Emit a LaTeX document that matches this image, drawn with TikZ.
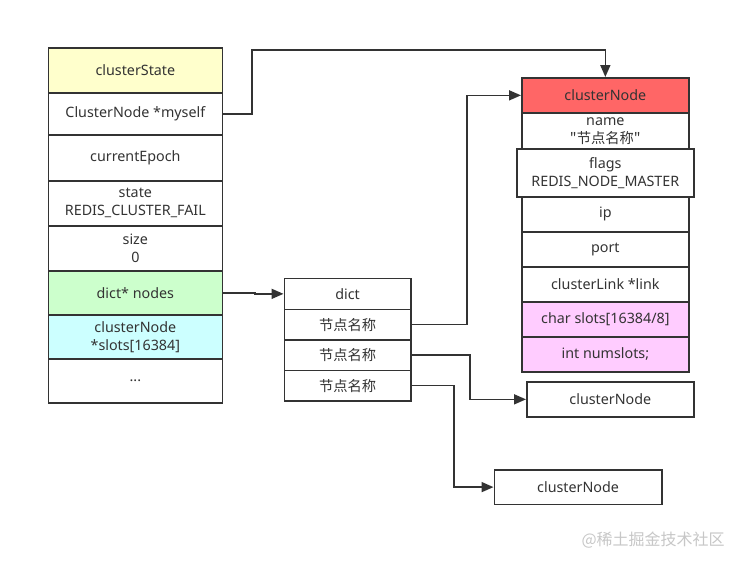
\documentclass[tikz,border=0pt]{standalone}
\usepackage{fontspec}
\setmainfont{Noto Sans}
\newfontfamily\cjk{Noto Sans CJK SC}
\usetikzlibrary{arrows.meta}
\definecolor{ink}{HTML}{333333}
\definecolor{cyel}{HTML}{FFFFCC}
\definecolor{cgrn}{HTML}{CCFFCC}
\definecolor{ccyn}{HTML}{CCFFFF}
\definecolor{cred}{HTML}{FF6666}
\definecolor{cpnk}{HTML}{FFCCFF}
\tikzset{
  cell/.style={draw=ink, line width=1.7pt, text=ink, anchor=north west, inner sep=0pt,
    align=center, font=\fontsize{14.3}{18}\selectfont},
  lcell/.style={cell, minimum width=174pt},
  mcell/.style={cell, minimum width=126.5pt},
  rcell/.style={cell, minimum width=167pt},
  conn/.style={draw=ink, line width=1.7pt, -{Triangle[length=12pt,width=10pt]}},
  wm/.style={text=black!22, font=\fontsize{16}{18}\selectfont\cjk}
}
\begin{document}
\begin{tikzpicture}[x=1pt,y=-1pt]
\useasboundingbox (0,0) rectangle (755,566);
\fill[white] (0,0) rectangle (755,566);
% left struct
\node[lcell, fill=cyel, minimum height=45pt] (cs) at (47.5,47) {clusterState};
\node[lcell, minimum height=42pt] (myself) at (47.5,92) {ClusterNode *myself};
\node[lcell, minimum height=46pt] (epoch) at (47.5,134) {currentEpoch};
\node[lcell, minimum height=45pt] (state) at (47.5,180) {state\\REDIS\_CLUSTER\_FAIL};
\node[lcell, minimum height=45pt] (size) at (47.5,225) {size\\0};
\node[lcell, fill=cgrn, minimum height=44pt] (nodes) at (47.5,270) {dict* nodes};
\node[lcell, fill=ccyn, minimum height=44pt] (slots) at (47.5,314) {clusterNode\\*slots[16384]};
\node[lcell, minimum height=44pt] (dots) at (47.5,358) {...};
% dict
\node[mcell, minimum height=31pt] (dict) at (283.5,277.5) {dict};
\node[mcell, minimum height=30.5pt] (r1) at (283.5,308.5) {\cjk 节点名称};
\node[mcell, minimum height=30.5pt] (r2) at (283.5,339) {\cjk 节点名称};
\node[mcell, minimum height=30.5pt] (r3) at (283.5,369.5) {\cjk 节点名称};
% right struct
\node[rcell, fill=cred, minimum height=35pt] (red) at (521,77) {clusterNode};
\node[rcell, minimum height=36pt] (name) at (521,112) {name\\{\cjk "节点名称"}};
\node[rcell, minimum height=35pt] (ip) at (521,196) {ip};
\node[rcell, minimum height=35pt] (port) at (521,231) {port};
\node[rcell, minimum height=35pt] (link) at (521,266) {clusterLink *link};
\node[rcell, fill=cpnk, minimum height=35pt] (cslots) at (521,301) {char slots[16384/8]};
\node[rcell, fill=cpnk, minimum height=35pt] (nslots) at (521,336) {int numslots;};
\node[cell, fill=white, minimum width=177pt, minimum height=48pt] (flags) at (516,148) {flags\\REDIS\_NODE\_MASTER};
% other cluster nodes
\node[cell, minimum width=167pt, minimum height=35pt] (cn2) at (526,381) {clusterNode};
\node[cell, minimum width=167.5pt, minimum height=34.5pt] (cn3) at (493.5,469) {clusterNode};
% connectors
\coordinate (m1) at (252,50);
\draw[conn] (myself.east) -| (m1) -| (red.north);
\draw[conn] (nodes.east) -- ++(32,0) |- (dict.west);
\draw[conn] (r1.east) -- ++(55,0) |- (red.west);
\draw[conn] (r2.east) -- ++(58,0) |- (cn2.west);
\draw[conn] (r3.east) -- ++(42,0) |- (cn3.west);
% watermark
\node[wm, anchor=west] (wmk) at (578,540) {@稀土掘金技术社区};
\end{tikzpicture}
\end{document}
